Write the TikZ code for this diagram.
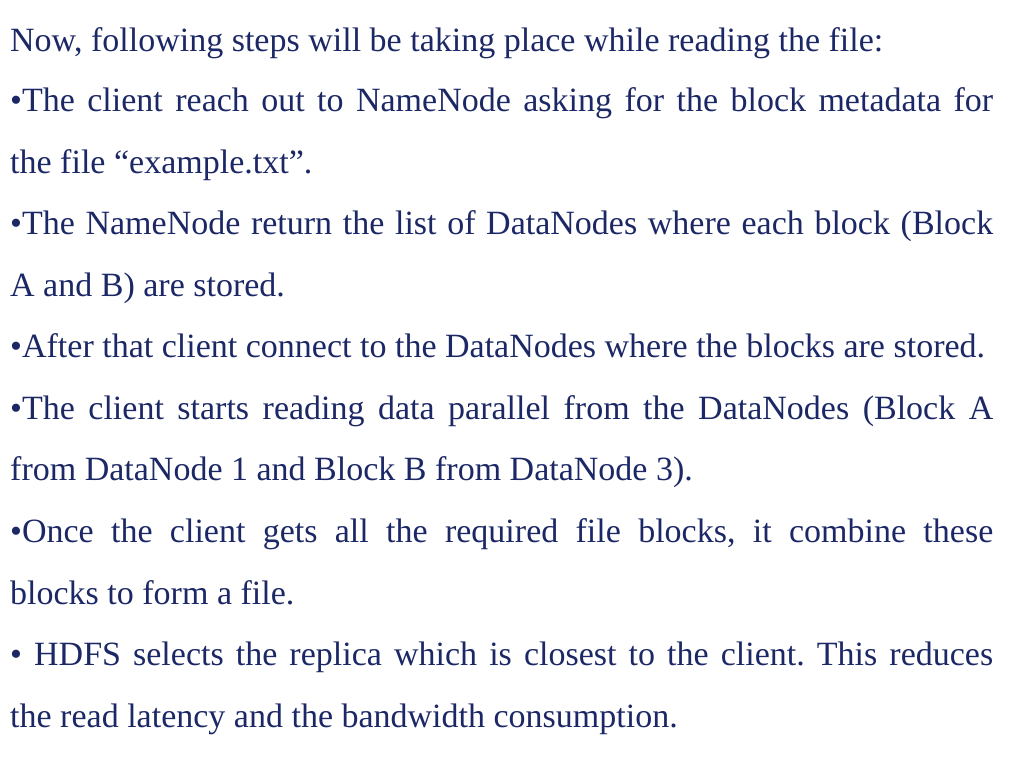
\documentclass[tikz,border=0pt]{standalone}
\usepackage{fontspec}
\setmainfont{Liberation Serif}
\frenchspacing
\definecolor{slideblue}{RGB}{28,40,102}
\tikzset{txt/.style={anchor=base west, inner sep=0pt, text=slideblue, font=\fontsize{34}{40}\selectfont}}
\newcommand{\jline}[1]{\makebox[983pt][s]{#1}}
\begin{document}
\begin{tikzpicture}[x=1pt,y=1pt]
\useasboundingbox (0,0) rectangle (1024,768);
\node[txt] (l1) at (10,716) {Now, following steps will be taking place while reading the file:};
\node[txt] (l2) at (10,656) {\jline{•The client reach out to NameNode asking for the block metadata for}};
\node[txt] (l3) at (10,594) {the file “example.txt”.};
\node[txt] (l4) at (10,533) {\jline{•The NameNode return the list of DataNodes where each block (Block}};
\node[txt] (l5) at (10,471) {A and B) are stored.};
\node[txt] (l6) at (10,410) {•After that client connect to the DataNodes where the blocks are stored.};
\node[txt] (l7) at (10,348) {\jline{•The client starts reading data parallel from the DataNodes (Block A}};
\node[txt] (l8) at (10,287) {from DataNode 1 and Block B from DataNode 3).};
\node[txt] (l9) at (10,225) {\jline{•Once the client gets all the required file blocks, it combine these}};
\node[txt] (l10) at (10,164) {blocks to form a file.};
\node[txt] (l11) at (10,103) {\jline{• HDFS selects the replica which is closest to the client. This reduces}};
\node[txt] (l12) at (10,41) {the read latency and the bandwidth consumption.};
\end{tikzpicture}
\end{document}
